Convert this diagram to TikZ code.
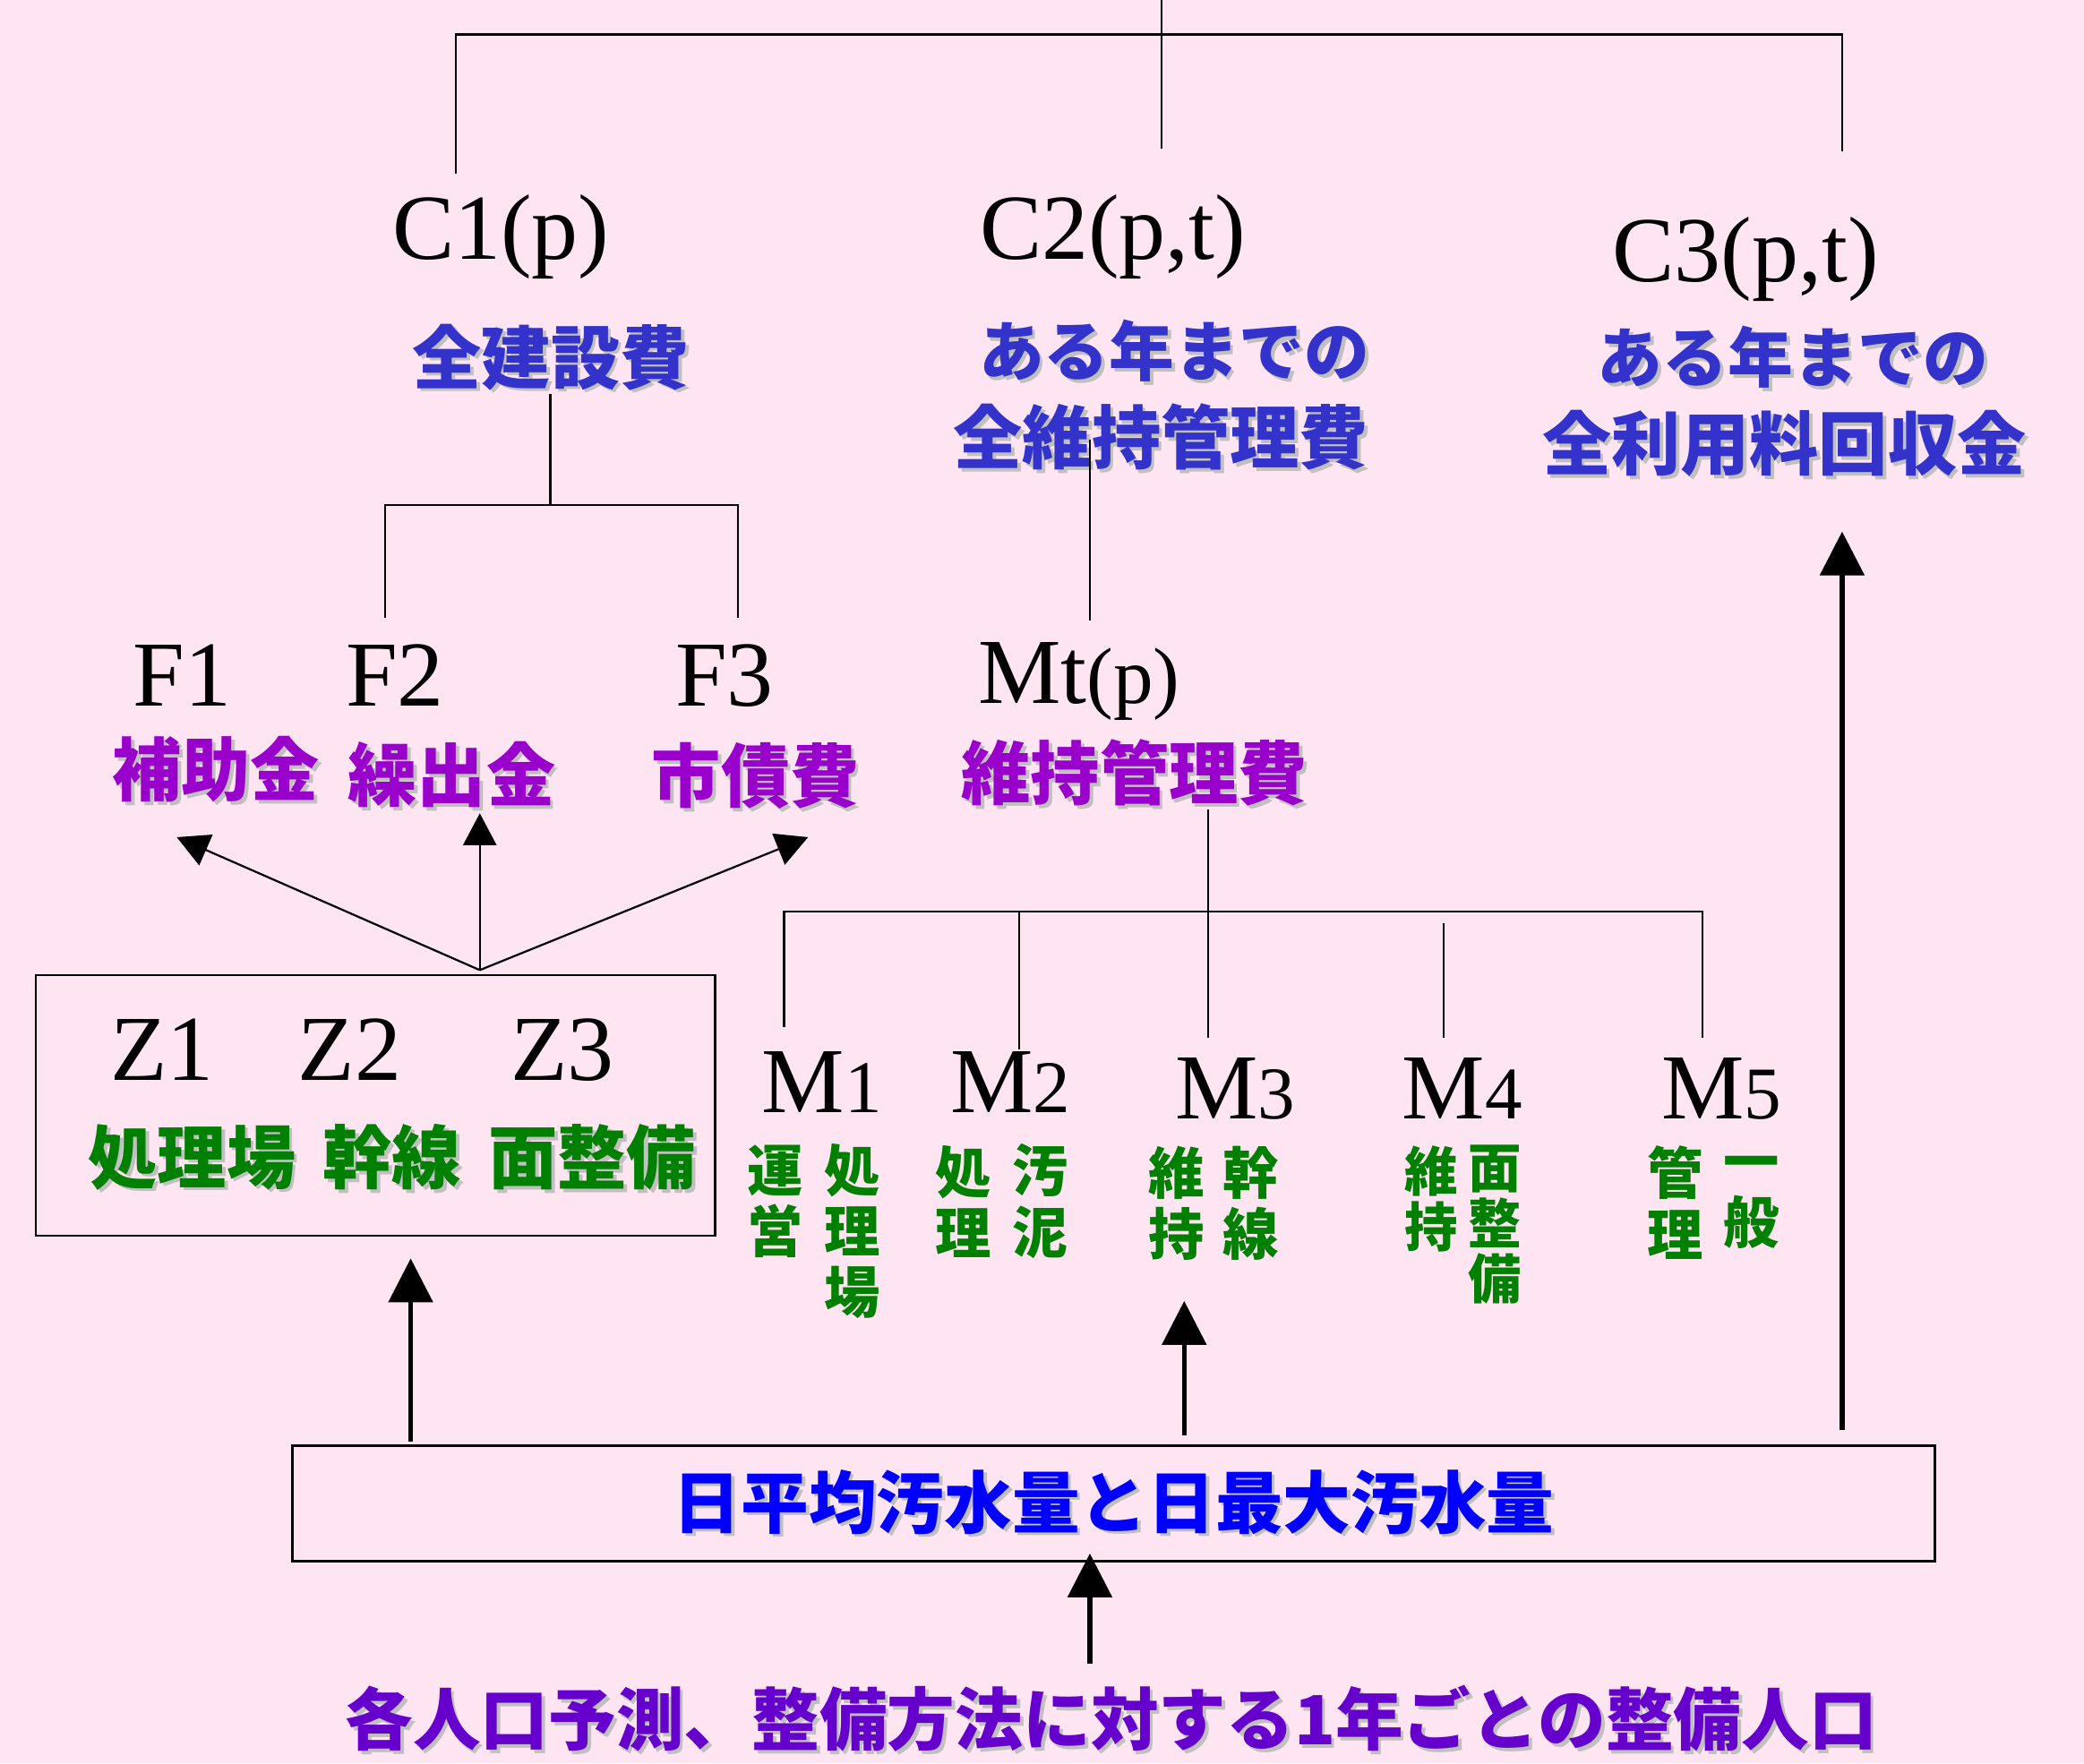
\documentclass[tikz,border=0pt]{standalone}
\usepackage{fontspec}
\setmainfont{Liberation Serif}
\newfontfamily\jp{Noto Sans CJK JP}
\usetikzlibrary{arrows.meta}
\definecolor{bgpink}{RGB}{255,229,242}
\definecolor{cblue}{RGB}{51,51,204}
\definecolor{fpurple}{RGB}{153,0,204}
\definecolor{zgreen}{RGB}{0,128,0}
\definecolor{qblue}{RGB}{0,0,255}
\definecolor{ppurple}{RGB}{102,0,204}
\definecolor{shadowc}{RGB}{192,192,192}
\newcommand\shd[1]{\makebox[0pt][l]{\hspace{2.5pt}\raisebox{-2.5pt}{\textcolor{shadowc}{#1}}}#1}
\begin{document}
\begin{tikzpicture}[x=1pt,y=-1pt,
 latin/.style={font=\fontsize{70}{80}\selectfont, inner sep=0, anchor=base west},
 cjk/.style={font=\jp\bfseries\fontsize{52}{60}\selectfont, inner sep=0},
 cjknarrow/.style={cjk, font=\jp\bfseries\fontsize{49}{60}\selectfont},
 gcol/.style={font=\jp\bfseries\fontsize{42}{46}\selectfont, inner sep=0, align=center, text=zgreen},
 tree/.style={line width=1.5pt},
 thinarrow/.style={line width=1.5pt, -{Triangle[length=24pt,width=25pt]}},
 thickarrow/.style={line width=3.5pt, -{Triangle[length=33pt,width=33pt]}},
]
\fill[bgpink] (0,0) rectangle (1568,1327);
\useasboundingbox (0,0) rectangle (1568,1327);

% --- top level
\node[latin] (c1) at (295,195) {C1(p)};
\node[latin] (c2) at (737,195) {C2(p,t)};
\node[latin] (c3) at (1213,212) {C3(p,t)};
\node[cjk,text=cblue] (c1t) at (414.5,270) {\shd{全建設費}};
\node[cjknarrow,text=cblue] (c2ta) at (883.5,265.5) {\shd{ある年までの}};
\node[cjk,text=cblue] (c2tb) at (873.5,330) {\shd{全維持管理費}};
\node[cjknarrow,text=cblue] (c3ta) at (1349,270) {\shd{ある年までの}};
\node[cjk,text=cblue] (c3tb) at (1342.5,335) {\shd{全利用料回収金}};

\coordinate (topin) at (874,0);
\draw[tree] (topin) -- (874,112);
\draw[tree] (343,131) -- (343,26) -- (1386,26) -- (1386,114);

% --- F level
\node[latin] (f1) at (100,531) {F1};
\node[latin] (f2) at (260,531) {F2};
\node[latin] (f3) at (508,531) {F3};
\node[latin] (mt) at (736,529) {Mt{\fontsize{60}{60}\selectfont(p)}};
\node[cjk,text=fpurple] (f1t) at (162.5,580) {\shd{補助金}};
\node[cjk,text=fpurple] (f2t) at (340,584) {\shd{繰出金}};
\node[cjk,text=fpurple] (f3t) at (568.5,585) {\shd{市債費}};
\node[cjk,text=fpurple] (mtt) at (853.5,583) {\shd{維持管理費}};

\draw[tree] (c1t.south -| 414,0) -- (414,380);
\draw[tree] (290,465) -- (290,380) -- (555,380) -- (555,465);
\draw[tree] (820,331) -- (820,467);

% --- Z box
\node[draw,line width=1.5pt,minimum width=511pt,minimum height=196pt,inner sep=0] (zbox) at (282.5,832) {};
\node[latin] (z1) at (83,813) {Z1};
\node[latin] (z2) at (224,813) {Z2};
\node[latin] (z3) at (384,813) {Z3};
\node[cjk,text=zgreen] (z1t) at (144.5,872) {\shd{処理場}};
\node[cjk,text=zgreen] (z2t) at (295,872) {\shd{幹線}};
\node[cjk,text=zgreen] (z3t) at (445.5,872) {\shd{面整備}};

\coordinate (fork) at (361,730);
\draw[thinarrow] (fork) -- (133,630);
\draw[thinarrow] (fork) -- (361,612);
\draw[thinarrow] (fork) -- (608,630);

% --- M level
\draw[tree] (909,609) -- (909,781);
\draw[tree] (590,773) -- (590,686) -- (1281,686) -- (1281,781);
\draw[tree] (767,686) -- (767,790);
\draw[tree] (1086,695) -- (1086,781);

\node[latin] (m1) at (573,837) {M{\fontsize{56}{60}\selectfont 1}};
\node[latin] (m2) at (715,837) {M{\fontsize{56}{60}\selectfont 2}};
\node[latin] (m3) at (884,842) {M{\fontsize{56}{60}\selectfont 3}};
\node[latin] (m4) at (1055,842) {M{\fontsize{56}{60}\selectfont 4}};
\node[latin] (m5) at (1250,842) {M{\fontsize{56}{60}\selectfont 5}};

\node[gcol] (m1a) at (583.5,904) {運\\営};
\node[gcol] (m1b) at (641.5,926.5) {処\\理\\場};
\node[gcol] (m2a) at (724.5,904) {処\\理};
\node[gcol] (m2b) at (783,904) {汚\\泥};
\node[gcol] (m3a) at (885.5,905.5) {維\\持};
\node[gcol] (m3b) at (941,905.5) {幹\\線};
\node[gcol,font=\jp\bfseries\fontsize{40}{42}\selectfont] (m4a) at (1077,902) {維\\持};
\node[gcol,font=\jp\bfseries\fontsize{40}{42}\selectfont] (m4b) at (1124.5,921.5) {面\\整\\備};
\node[gcol] (m5a) at (1260.5,905) {管\\理};
\node[gcol] (m5b) at (1317.5,905) {一\\般};

% --- flow box
\node[draw,line width=2pt,minimum width=1236pt,minimum height=87pt,inner sep=0,
      font=\jp\bfseries\fontsize{51}{60}\selectfont,text=qblue] (flow) at (838,1131.5) {\shd{日平均汚水量と日最大汚水量}};

\draw[thickarrow] (309,1085) -- (309,947);
\draw[thickarrow] (891,1080) -- (891,979);
\draw[thickarrow] (1386,1076) -- (1386,400);

\node[cjk,text=ppurple,font=\jp\bfseries\fontsize{51}{60}\selectfont] (pop) at (836,1294.5) {\shd{各人口予測、整備方法に対する1年ごとの整備人口}};
\draw[thickarrow] (820,1252) -- (820,1169);
\end{tikzpicture}
\end{document}
